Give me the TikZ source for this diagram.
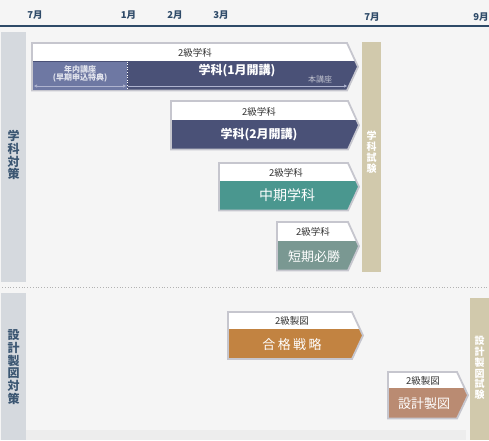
\documentclass[tikz,border=0pt]{standalone}
\usepackage{fontspec}
\setmainfont{Noto Sans CJK JP}
\usetikzlibrary{arrows.meta}
\definecolor{bgc}{HTML}{F5F5F5}
\definecolor{navy}{HTML}{2E4A68}
\definecolor{band}{HTML}{D5D9DE}
\definecolor{bandtext}{HTML}{3B5672}
\definecolor{boxline}{HTML}{C6C6CE}
\definecolor{dpurple}{HTML}{4A5177}
\definecolor{lpurple}{HTML}{6E78A3}
\definecolor{teal}{HTML}{4A978F}
\definecolor{grayteal}{HTML}{7A9892}
\definecolor{orange}{HTML}{C28341}
\definecolor{brownpink}{HTML}{BA8B72}
\definecolor{tan}{HTML}{D1C9AC}
\definecolor{lightarrow}{HTML}{AEB3CF}
\definecolor{strip}{HTML}{EDEDED}
\newcommand\arrowbox[7]{%
  \begin{scope}
    \clip (#1,#2) -- (#5,#2) -- (#6,{(#2+#4)/2}) -- (#5,#4) -- (#1,#4) -- cycle;
    \fill[white] (#1,#2) rectangle (#6,#3);
    \fill[#7] (#1,#3) rectangle (#6,#4);
  \end{scope}
  \draw[boxline,line width=1.8pt,line join=miter] (#1,#2) -- (#5,#2) -- (#6,{(#2+#4)/2}) -- (#5,#4) -- (#1,#4) -- cycle;
}
\begin{document}
\begin{tikzpicture}[x=1pt,y=-1pt,
  month/.style={text=navy,font=\fontsize{9.5}{10}\selectfont\bfseries,inner sep=0pt},
  level/.style={text=black!80,font=\fontsize{9.5}{10}\selectfont,inner sep=0pt},
  title/.style={text=white,font=\fontsize{12}{13}\selectfont\bfseries,inner sep=0pt},
  bigtitle/.style={text=white,font=\fontsize{14}{15}\selectfont,inner sep=0pt},
  vlabel/.style={text=bandtext,font=\fontsize{12}{12.8}\selectfont\bfseries,align=center,inner sep=0pt},
  exlabel/.style={text=white,font=\fontsize{10}{10.8}\selectfont\bfseries,align=center,inner sep=0pt},
  small/.style={font=\fontsize{8}{8.8}\selectfont\bfseries,align=center,inner sep=0pt},
  thinarrow/.style={lightarrow,line width=0.6pt}
]
\useasboundingbox (0,0) rectangle (489,440);
\fill[bgc] (0,0) rectangle (489,440);
\fill[strip] (26,430) rectangle (466,440);

% header
\node[month] (m1) at (35,15.5) {7月};
\node[month] (m2) at (128.5,15.5) {1月};
\node[month] (m3) at (175,15.5) {2月};
\node[month] (m4) at (221,15.5) {3月};
\node[month] (m5) at (372,17) {7月};
\node[month] (m6) at (481,17) {9月};
\draw[navy,line width=2pt] (0,25.5) -- (489,25.5);

% left bands
\fill[band] (1,32) rectangle (26,282);
\fill[band] (1,293) rectangle (26,440);
\node[vlabel] (s1) at (13.5,155) {学\\科\\対\\策};
\node[vlabel] (s2) at (13.5,367) {設\\計\\製\\図\\対\\策};
\draw[gray!60,line width=0.8pt,dotted] (2,287.3) -- (489,287.3);

% exam bars
\fill[tan] (362,42) rectangle (381,272);
\node[exlabel] (e1) at (371.5,152) {学\\科\\試\\験};
\fill[tan] (470,298) rectangle (489,440);
\node[exlabel] (e2) at (479.5,368) {設\\計\\製\\図\\試\\験};

% box 1
\arrowbox{32}{43}{61}{90.5}{347}{358}{dpurple}
\fill[lpurple] (33,61.5) rectangle (127,89.6);
\draw[white,dotted,line width=0.6pt] (127,61.5) -- (127,89.6);
\node[level] (b1l) at (195,52.5) {2級学科};
\node[title] (b1t) at (237,71) {学科(1月開講)};
\node[small,text=white!80!lpurple] (b1a) at (80,69) {年内講座};
\node[small,text=white!80!lpurple] (b1b) at (80,78) {(早期申込特典)};
\node[small,text=white!65!dpurple,font=\fontsize{8}{8.8}\selectfont] (b1c) at (320,79) {本講座};
\coordinate (p1) at (34,86);
\coordinate (p2) at (126,86);
\coordinate (p3) at (128,86);
\coordinate (p4) at (347,86);
\draw[thinarrow,{Triangle[length=3pt,width=3pt]}-{Triangle[length=3pt,width=3pt]}] (p1) -- (p2);
\draw[thinarrow,-{Triangle[length=3pt,width=3pt]}] (p3) -- (p4);

% box 2
\arrowbox{171}{101}{120}{149.5}{348}{359}{dpurple}
\node[level] (b2l) at (259,111.5) {2級学科};
\node[title] (b2t) at (259,135) {学科(2月開講)};

% box 3
\arrowbox{219}{163}{181}{210.5}{348}{359}{teal}
\node[level] (b3l) at (286,173) {2級学科};
\node[bigtitle] (b3t) at (287,195.5) {中期学科};

% box 4
\arrowbox{277}{222}{241}{270.5}{348}{359}{grayteal}
\node[level] (b4l) at (313,232) {2級学科};
\node[bigtitle,font=\fontsize{13}{14}\selectfont] (b4t) at (314,256.5) {短期必勝};

% box 5
\arrowbox{228}{312}{329}{359}{352}{363}{orange}
\node[level] (b5l) at (292,321) {2級製図};
\node[bigtitle,font=\fontsize{13}{14}\selectfont] (b5t) at (292,345) {合\hspace{2.5pt}格\hspace{2.5pt}戦\hspace{2.5pt}略};

% box 6
\arrowbox{388}{372}{388}{418.5}{457}{468}{brownpink}
\node[level] (b6l) at (423,380.5) {2級製図};
\node[bigtitle,font=\fontsize{13}{14}\selectfont] (b6t) at (424,403.5) {設計製図};
\end{tikzpicture}
\end{document}
